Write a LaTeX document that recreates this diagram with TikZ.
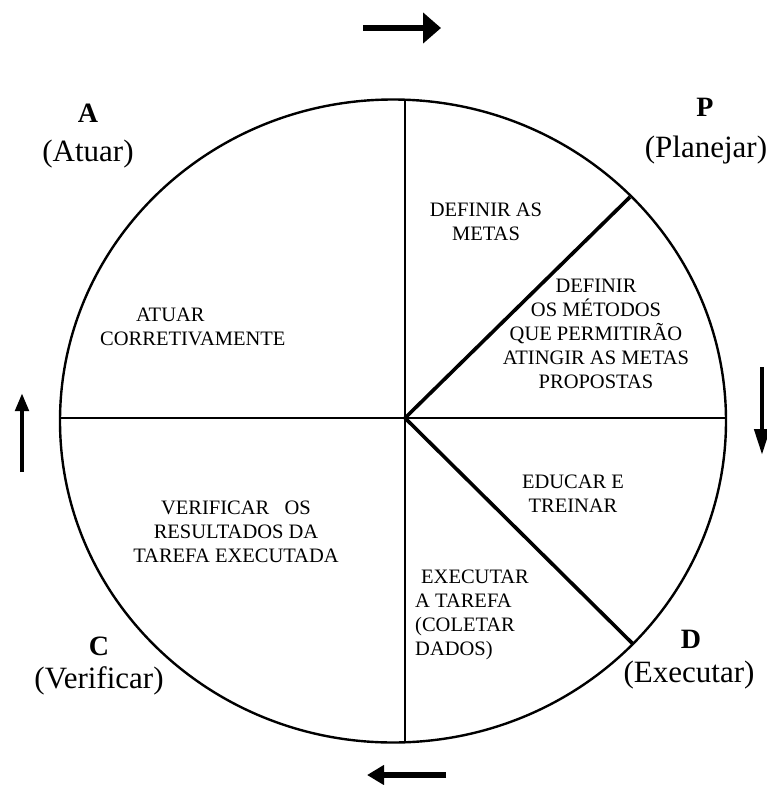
\documentclass[tikz,border=0pt]{standalone}
\usepackage{fontspec}
\setmainfont{Liberation Serif}
\usetikzlibrary{arrows.meta}
\begin{document}
\begin{tikzpicture}[x=1pt,y=-1pt,
  rim/.style={line width=2.4pt},
  spoke/.style={line width=2.8pt},
  cut/.style={line width=3.6pt},
  stage/.style={inner sep=0pt,font=\fontsize{20.5}{24}\selectfont},
  letter/.style={inner sep=0pt,anchor=base,font=\fontsize{28}{30}\selectfont\bfseries},
  phase/.style={inner sep=0pt,anchor=base,font=\fontsize{31}{34}\selectfont},
  flow/.style={line width=#1}]
\useasboundingbox (0,0) rectangle (767,785);

% wheel
\coordinate (O) at (405,418);
\draw[rim] (393,421) ellipse [x radius=333, y radius=321.5];
\coordinate (top) at (405,100);
\coordinate (bot) at (405,742);
\coordinate (lft) at (60,418);
\coordinate (rgt) at (726,418);
\coordinate (ne) at (630,197);
\coordinate (se) at (633,644);
\draw[spoke] (top) -- (bot);
\draw[spoke] (lft) -- (rgt);
\draw[cut] (O) -- (ne);
\draw[cut] (O) -- (se);

% sector texts
\node[stage,anchor=north west,align=left] (act) at (100,308)
  {\hspace*{36pt}ATUAR\\CORRETIVAMENTE};
\node[stage,anchor=north,align=center] (goals) at (486,203)
  {DEFINIR AS\\METAS};
\node[stage,anchor=north,align=center] (methods) at (596,279)
  {DEFINIR\\OS MÉTODOS\\QUE PERMITIRÃO\\ATINGIR AS METAS\\PROPOSTAS};
\node[stage,anchor=north,align=center] (train) at (573,475)
  {EDUCAR E\\TREINAR};
\node[stage,anchor=north west,align=left] (exec) at (415,570)
  {\hspace*{6pt}EXECUTAR\\A TAREFA\\(COLETAR\\DADOS)};
\node[stage,anchor=north,align=center] (check) at (236,501)
  {VERIFICAR\ \ \ OS\\RESULTADOS DA\\TAREFA EXECUTADA};

% phase labels
\node[letter] (A) at (88,122) {A};
\node[phase] (Atuar) at (88,161) {(Atuar)};
\node[letter] (P) at (705,116) {P};
\node[phase] (Planejar) at (706,157) {(Planejar)};
\node[letter] (D) at (691,648) {D};
\node[phase] (Executar) at (689,682) {(Executar)};
\node[letter] (C) at (99,655) {C};
\node[phase] (Verificar) at (99,688) {(Verificar)};

% direction arrows
\coordinate (t0) at (363,28);  \coordinate (t1) at (441,28);
\coordinate (r0) at (762,367); \coordinate (r1) at (762,455);
\coordinate (b0) at (446,775); \coordinate (b1) at (367,775);
\coordinate (l0) at (22,472);  \coordinate (l1) at (22,393);
\draw[flow=6pt,-{Triangle[length=18pt,width=30pt]}] (t0) -- (t1);
\draw[flow=4.5pt,-{Triangle[length=26pt,width=15pt]}] (r0) -- (r1);
\draw[flow=6pt,-{Triangle[length=17pt,width=19pt]}] (b0) -- (b1);
\draw[flow=4.5pt,-{Triangle[length=18pt,width=13pt]}] (l0) -- (l1);
\end{tikzpicture}
\end{document}
